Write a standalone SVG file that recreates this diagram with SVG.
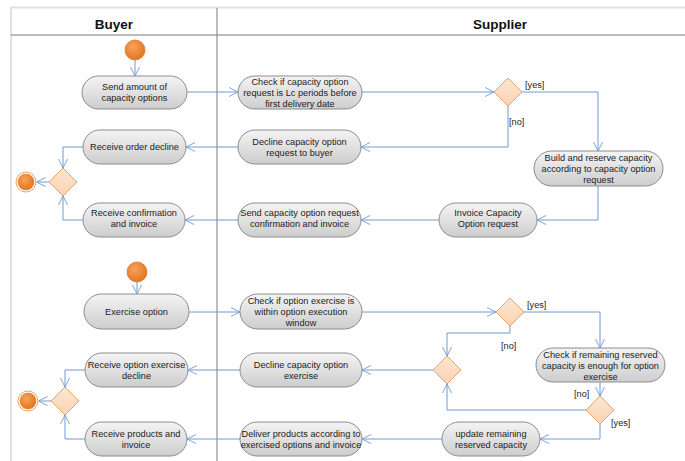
<svg xmlns="http://www.w3.org/2000/svg" width="685" height="461" viewBox="0 0 685 461">
<style>
.frame{fill:none;stroke:#e0e0e0;stroke-width:2}
.lane{stroke:#7a7a7a;stroke-width:1}
.hdr{font-family:"Liberation Sans",Arial,sans-serif;font-weight:bold;font-size:13.5px;fill:#111;text-anchor:middle}
.act rect{fill:url(#g);stroke:#8c8c8c;stroke-width:1}
.act text,.lbl{font-family:"Liberation Sans",Arial,sans-serif;font-size:9.2px;fill:#222;text-anchor:middle}
.lbl{text-anchor:start}
.dec{fill:url(#gd);stroke:#e8a46c;stroke-width:1}
.st{fill:url(#go);stroke:#d8782e;stroke-width:0.8}
.c{fill:none;stroke:#6f9bd6;stroke-width:1;marker-end:url(#a)}
</style>
<defs>
<linearGradient id="g" x1="0" y1="0" x2="0" y2="1"><stop offset="0" stop-color="#f4f4f4"/><stop offset="1" stop-color="#cdcdcd"/></linearGradient>
<linearGradient id="gd" x1="0" y1="0" x2="0" y2="1"><stop offset="0" stop-color="#fde6d2"/><stop offset="1" stop-color="#fbd3b2"/></linearGradient>
<radialGradient id="go" cx="0.4" cy="0.35" r="0.7"><stop offset="0" stop-color="#f7a25a"/><stop offset="1" stop-color="#e0731c"/></radialGradient>
<marker id="a" viewBox="0 0 10 10" refX="10" refY="5" markerWidth="9" markerHeight="10" markerUnits="userSpaceOnUse" orient="auto"><path d="M0,0 L10,5 L0,10" fill="none" stroke="#6f9bd6" stroke-width="1"/></marker>
</defs>
<rect width="685" height="461" fill="#ffffff"/>
<g id="lanes">
<path class="frame" d="M11,461 V7.5 H685"/>
<line class="lane" x1="11" y1="35" x2="685" y2="35"/>
<line class="lane" x1="217" y1="8" x2="217" y2="461"/>
<text class="hdr" x="114" y="29">Buyer</text>
<text class="hdr" x="500" y="29">Supplier</text>
</g>
<g id="connectors">
<path class="c" d="M135,60 V76"/>
<path class="c" d="M187,92 H238"/>
<path class="c" d="M362,92 H494"/>
<path class="c" d="M522,92 H598 V151"/>
<path class="c" d="M508,106 V147 H361"/>
<path class="c" d="M238,147 H186"/>
<path class="c" d="M83,147 H63 V168"/>
<path class="c" d="M83,220 H63 V196"/>
<path class="c" d="M49,182 H36.5"/>
<path class="c" d="M598,186 V220 H537"/>
<path class="c" d="M439,220 H361"/>
<path class="c" d="M238,220 H185"/>
<path class="c" d="M137,282 V294"/>
<path class="c" d="M189,312 H240"/>
<path class="c" d="M362,312 H496"/>
<path class="c" d="M524,312 H600 V348"/>
<path class="c" d="M510,326 V333 H447 V356"/>
<path class="c" d="M600,382 V396"/>
<path class="c" d="M586,410 H447 V384"/>
<path class="c" d="M600,424 V439 H540"/>
<path class="c" d="M433,370 H362"/>
<path class="c" d="M240,370 H188"/>
<path class="c" d="M85,370 H65 V387"/>
<path class="c" d="M85,439 H65 V415"/>
<path class="c" d="M51,401 H38.5"/>
<path class="c" d="M442,439 H362"/>
<path class="c" d="M240,439 H187"/>
<text class="lbl" x="525" y="88">[yes]</text>
<text class="lbl" x="509" y="125">[no]</text>
<text class="lbl" x="527" y="308">[yes]</text>
<text class="lbl" x="501" y="349">[no]</text>
<text class="lbl" x="574" y="397">[no]</text>
<text class="lbl" x="611" y="426">[yes]</text>
</g>
<g id="start1"><circle class="st" cx="135" cy="50" r="10"/></g>
<g id="n1" class="act"><rect x="82" y="76" width="105" height="33" rx="16.5"/><text x="134.5" y="90.2">Send amount of</text><text x="134.5" y="101.2">capacity options</text></g>
<g id="n2" class="act"><rect x="238" y="76" width="124" height="33" rx="16.5"/><text x="300" y="84.7">Check if capacity option</text><text x="300" y="95.7">request is Lc periods before</text><text x="300" y="106.7">first delivery date</text></g>
<g id="d1"><path class="dec" d="M508,78 L522,92 L508,106 L494,92 Z"/></g>
<g id="n3" class="act"><rect x="534" y="151" width="129" height="35" rx="17.5"/><text x="598.5" y="161.2">Build and reserve capacity</text><text x="598.5" y="172.2">according to capacity option</text><text x="598.5" y="183.2">request</text></g>
<g id="n4" class="act"><rect x="238" y="130" width="123" height="34" rx="17"/><text x="299.5" y="144.7">Decline capacity option</text><text x="299.5" y="155.7">request to buyer</text></g>
<g id="n5" class="act"><rect x="83" y="130" width="103" height="34" rx="17"/><text x="134.5" y="150.2">Receive order decline</text></g>
<g id="dm1"><path class="dec" d="M63,168 L77,182 L63,196 L49,182 Z"/></g>
<g id="end1"><circle cx="26" cy="182" r="10" fill="#fff" stroke="#f0a060" stroke-width="1"/><circle cx="26" cy="182" r="8" fill="url(#go)" stroke="#d8782e" stroke-width="0.6"/></g>
<g id="n6" class="act"><rect x="83" y="203" width="102" height="34" rx="17"/><text x="134" y="216.2">Receive confirmation</text><text x="134" y="227.2">and invoice</text></g>
<g id="n7" class="act"><rect x="238" y="203" width="123" height="34" rx="17"/><text x="299.5" y="216.2">Send capacity option request</text><text x="299.5" y="227.2">confirmation and invoice</text></g>
<g id="n8" class="act"><rect x="439" y="203" width="98" height="34" rx="17"/><text x="488" y="216.2">Invoice Capacity</text><text x="488" y="227.2">Option request</text></g>
<g id="start2"><circle class="st" cx="137" cy="272" r="10"/></g>
<g id="n9" class="act"><rect x="84" y="294" width="105" height="35" rx="17.5"/><text x="136.5" y="314.7">Exercise option</text></g>
<g id="n10" class="act"><rect x="240" y="294" width="122" height="35" rx="17.5"/><text x="301" y="304.2">Check if option exercise is</text><text x="301" y="315.2">within option execution</text><text x="301" y="326.2">window</text></g>
<g id="d2"><path class="dec" d="M510,298 L524,312 L510,326 L496,312 Z"/></g>
<g id="n11" class="act"><rect x="536" y="348" width="129" height="34" rx="17"/><text x="600.5" y="357.7">Check if remaining reserved</text><text x="600.5" y="368.7">capacity is enough for option</text><text x="600.5" y="379.7">exercise</text></g>
<g id="d3"><path class="dec" d="M447,356 L461,370 L447,384 L433,370 Z"/></g>
<g id="d4"><path class="dec" d="M600,396 L614,410 L600,424 L586,410 Z"/></g>
<g id="n12" class="act"><rect x="240" y="353" width="122" height="34" rx="17"/><text x="301" y="367.7">Decline capacity option</text><text x="301" y="378.7">exercise</text></g>
<g id="n13" class="act"><rect x="85" y="353" width="103" height="34" rx="17"/><text x="136.5" y="367.7">Receive option exercise</text><text x="136.5" y="378.7">decline</text></g>
<g id="dm2"><path class="dec" d="M65,387 L79,401 L65,415 L51,401 Z"/></g>
<g id="end2"><circle cx="28" cy="401" r="10" fill="#fff" stroke="#f0a060" stroke-width="1"/><circle cx="28" cy="401" r="8" fill="url(#go)" stroke="#d8782e" stroke-width="0.6"/></g>
<g id="n14" class="act"><rect x="442" y="422" width="98" height="34" rx="17"/><text x="491" y="436.7">update remaining</text><text x="491" y="447.7">reserved capacity</text></g>
<g id="n15" class="act"><rect x="240" y="422" width="122" height="34" rx="17"/><text x="301" y="436.7">Deliver products according to</text><text x="301" y="447.7">exercised options and invoice</text></g>
<g id="n16" class="act"><rect x="85" y="422" width="102" height="34" rx="17"/><text x="136" y="436.7">Receive products and</text><text x="136" y="447.7">invoice</text></g>
</svg>
